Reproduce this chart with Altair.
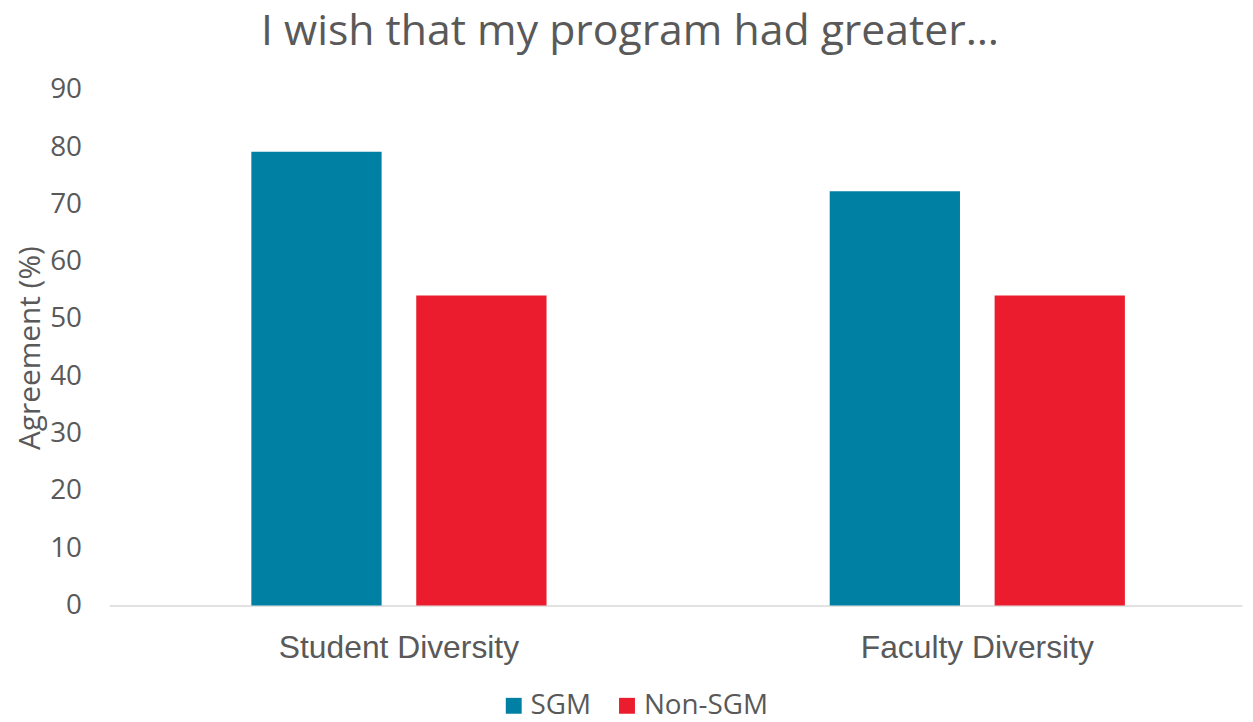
import altair as alt
import pandas as pd

categories = ["Student Diversity", "Faculty Diversity"]
groups = ["SGM", "Non-SGM"]
sgm_values = [79.2, 72.3]
non_sgm_values = [54.1, 54.1]
colors = ["#0080A3", "#EA1C2D"]

rows = []
for c, s, n in zip(categories, sgm_values, non_sgm_values):
    rows.append({"Category": c, "Group": "SGM", "Value": s})
    rows.append({"Category": c, "Group": "Non-SGM", "Value": n})
df = pd.DataFrame(rows)

TXT = "#595959"

chart = alt.Chart(df).mark_bar().encode(
    x=alt.X("Category:N", sort=categories,
            scale=alt.Scale(paddingInner=0.4896, paddingOuter=0.224, align=0.548),
            axis=alt.Axis(title=None, labelAngle=0, ticks=False, domainColor="#D9D9D9",
                          domainWidth=1.5, labelFont="Liberation Sans", labelFontSize=32,
                          labelColor=TXT, labelPadding=27, labelLimit=0)),
    xOffset=alt.XOffset("Group:N", sort=groups,
                        scale=alt.Scale(paddingInner=0.21, paddingOuter=0)),
    y=alt.Y("Value:Q", scale=alt.Scale(domain=[0, 90]),
            axis=alt.Axis(title="Agreement (%)", values=list(range(0, 91, 10)), ticks=False,
                          domain=False, grid=False, labelFont="Open Sans", labelFontSize=28,
                          labelColor=TXT, labelPadding=28, titleFont="Open Sans",
                          titleFontSize=30, titleFontWeight="normal", titleColor=TXT,
                          titlePadding=4)),
    color=alt.Color("Group:N", sort=groups,
                    scale=alt.Scale(domain=groups, range=colors),
                    legend=alt.Legend(title=None, orient="none", direction="horizontal",
                                      legendX=393, legendY=606, symbolType="square",
                                      symbolSize=256, symbolStrokeWidth=0,
                                      labelFont="Open Sans", labelFontSize=28,
                                      labelColor=TXT, labelOffset=3, columnPadding=22)),
).properties(
    width=1140,
    height=519,
    title=alt.TitleParams("I wish that my program had greater…", font="Open Sans",
                          fontSize=43, fontWeight="normal", color=TXT, anchor="middle",
                          dx=-46, offset=22),
    autosize=alt.AutoSizeParams(type="none"),
    padding={"left": 102, "top": 80, "right": 3, "bottom": 115},
).configure_view(stroke=None)

chart.save("out.html", embed_options={"renderer": "svg", "actions": False})
